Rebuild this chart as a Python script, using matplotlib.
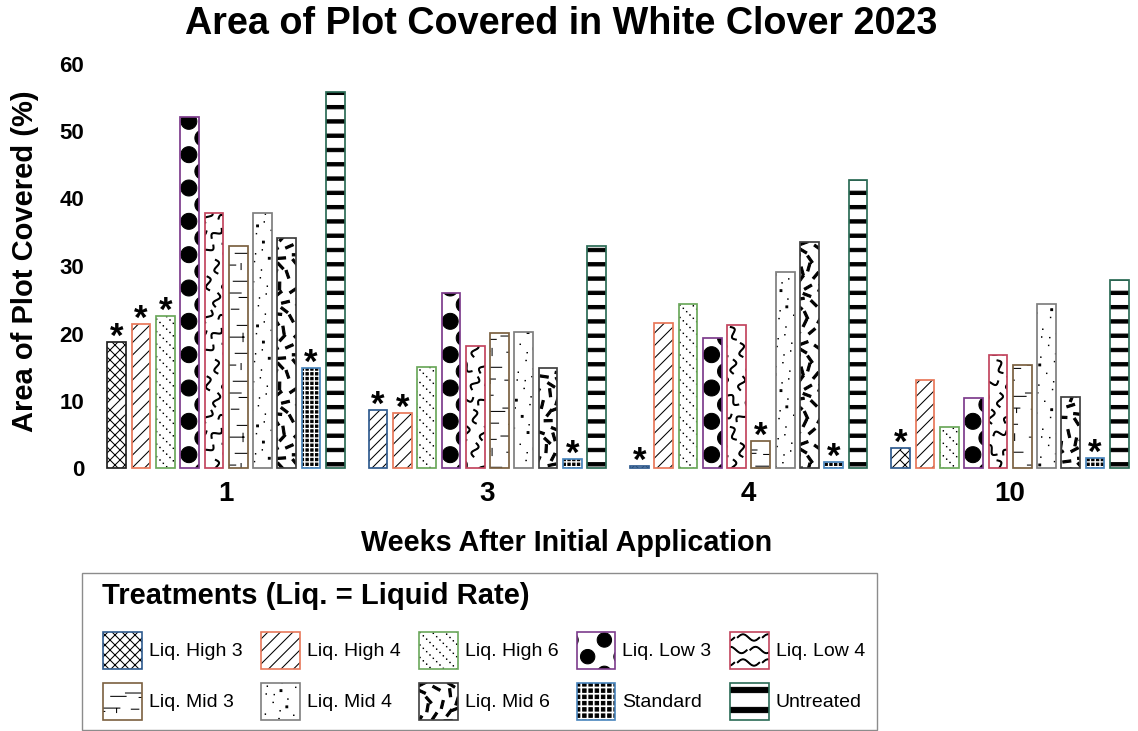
import warnings
warnings.filterwarnings('ignore')
import numpy as np
import matplotlib
matplotlib.use('Agg')
import matplotlib.pyplot as plt
import matplotlib.hatch as mhatch
from matplotlib.path import Path
from matplotlib.patches import Patch, Rectangle

# ---------------- data ----------------
weeks = ['1', '3', '4', '10']
treatments = ['Liq. High 3', 'Liq. High 4', 'Liq. High 6', 'Liq. Low 3', 'Liq. Low 4',
              'Liq. Mid 3', 'Liq. Mid 4', 'Liq. Mid 6', 'Standard', 'Untreated']
liq_high_3 = [18.7, 8.7, 0.4, 3.0]
liq_high_4 = [21.4, 8.2, 21.5, 13.1]
liq_high_6 = [22.6, 15.0, 24.3, 6.2]
liq_low_3 = [52.1, 26.0, 19.4, 10.4]
liq_low_4 = [37.8, 18.1, 21.3, 16.8]
liq_mid_3 = [32.9, 20.1, 4.1, 15.4]
liq_mid_4 = [37.8, 20.2, 29.1, 24.4]
liq_mid_6 = [34.2, 14.9, 33.6, 10.6]
standard = [14.9, 1.4, 1.0, 1.6]
untreated = [55.8, 32.9, 42.8, 28.0]

# asterisk marks above bars (1 = marked)
star_high_3 = [1, 1, 1, 1]
star_high_4 = [1, 1, 0, 0]
star_high_6 = [1, 0, 0, 0]
star_low_3 = [0, 0, 0, 0]
star_low_4 = [0, 0, 0, 0]
star_mid_3 = [0, 0, 1, 0]
star_mid_4 = [0, 0, 0, 0]
star_mid_6 = [0, 0, 0, 0]
star_standard = [1, 1, 1, 1]
star_untreated = [0, 0, 0, 0]

series = [liq_high_3, liq_high_4, liq_high_6, liq_low_3, liq_low_4,
          liq_mid_3, liq_mid_4, liq_mid_6, standard, untreated]
stars = [star_high_3, star_high_4, star_high_6, star_low_3, star_low_4,
         star_mid_3, star_mid_4, star_mid_6, star_standard, star_untreated]

title = 'Area of Plot Covered in White Clover 2023'
xlabel = 'Weeks After Initial Application'
ylabel = 'Area of Plot Covered (%)'
legend_title = 'Treatments (Liq. = Liquid Rate)'

# ---------------- styles ----------------
edge_colors = ['#2F5B8F', '#E8785A', '#6BA85B', '#7D3C8C', '#C2455E',
               '#7B6040', '#7F7F7F', '#404040', '#4A86BE', '#2A6B55']
first_group_edge_high3 = '#222222'

# ---------------- custom hatch tiles (100 px tile at dpi 100) ----------------
T = 100.0
_G = 1.32471795724474602596
_A1, _A2 = 1.0 / _G, 1.0 / _G ** 2


def _r2(k):
    return ((0.5 + k * _A1) % 1.0) * T, ((0.5 + k * _A2) % 1.0) * T


def _lines(segs):
    v, c = [], []
    for x0, y0, x1, y1 in segs:
        v += [(x0, y0), (x1, y1)]
        c += [Path.MOVETO, Path.LINETO]
    return v, c


def _wrap(polys):
    out = []
    for p in polys:
        p = np.asarray(p, float)
        for dx in (-T, 0.0, T):
            for dy in (-T, 0.0, T):
                q = p + (dx, dy)
                if (q[:, 0].max() < -2 or q[:, 0].min() > T + 2 or
                        q[:, 1].max() < -2 or q[:, 1].min() > T + 2):
                    continue
                out.append(q)
    return out


def _shapes(polys, wrap=True):
    v, c = [], []
    for p in (_wrap(polys) if wrap else polys):
        pts = [tuple(a) for a in np.asarray(p, float)]
        v += pts + [pts[0]]
        c += [Path.MOVETO] + [Path.LINETO] * (len(pts) - 1) + [Path.CLOSEPOLY]
    return v, c


def _rect(cx, cy, hw, hh, ang=0.0):
    ca, sa = np.cos(ang), np.sin(ang)
    loc = np.array([(-hw, -hh), (hw, -hh), (hw, hh), (-hw, hh)])
    return np.column_stack([cx + loc[:, 0] * ca - loc[:, 1] * sa,
                            cy + loc[:, 0] * sa + loc[:, 1] * ca])


def _ribbon(L, A, w):
    t = np.linspace(0, 1, 26)
    xs = (t - 0.5) * L
    ys = A * np.sin(2 * np.pi * t)
    dx = np.gradient(xs)
    dy = np.gradient(ys)
    nrm = np.hypot(dx, dy)
    nx, ny = -dy / nrm, dx / nrm
    left = np.column_stack([xs + w * nx, ys + w * ny])
    right = np.column_stack([xs - w * nx, ys - w * ny])
    return np.vstack([left, right[::-1]])


def pat_cross():
    n = 10
    s = T / n
    segs = []
    for k in range(-n, n + 1):
        segs.append((0, k * s, T, T + k * s))
        segs.append((0, k * s, T, k * s - T))
    return _lines(segs)


def pat_diag():
    n = 8
    s = T / n
    return _lines([(0, k * s, T, T + k * s) for k in range(-n, n + 1)])


def pat_dotdiag():
    n, m = 8, 30
    polys = []
    for j in range(n):
        for k in range(m):
            x = k * T / m
            y = (j * T / n - x) % T
            polys.append(_rect(x, y, 0.2, 0.2))
    return _shapes(polys)


def make_circles(cx0=8.0, cy0=10.0, r=8.0, off=14.0):
    def builder():
        P = T / 3
        th = np.linspace(0, 2 * np.pi, 30, endpoint=False)
        polys = []
        for i in range(3):
            for j in range(3):
                for ox, oy in ((0.0, 0.0), (off, P / 2)):
                    cx = (cx0 + i * P + ox) % T
                    cy = (cy0 + j * P + oy) % T
                    polys.append(np.column_stack([cx + r * np.cos(th), cy + r * np.sin(th)]))
        return _shapes(polys)
    return builder


def pat_squiggle():
    polys = []
    angles = np.deg2rad([90, 65, 115, 80, 20, 100, 140, 45])
    base = _ribbon(14.0, 3.0, 0.5)
    n = 6
    step = T / n
    for j in range(n):
        for i in range(n):
            a = angles[(i * 3 + j * 5) % 8]
            ca, sa = np.cos(a), np.sin(a)
            cx = i * step + (j % 2) * step / 2
            cy = j * step
            polys.append(np.column_stack([cx + base[:, 0] * ca - base[:, 1] * sa,
                                          cy + base[:, 0] * sa + base[:, 1] * ca]))
    return _shapes(polys)


def pat_squiggle_legend():
    polys = []
    base = _ribbon(22.0, 3.2, 0.45)
    n = 8
    step = T / n
    for j in range(n):
        for i in range(4):
            cx = i * 25.0 + (j % 2) * 12.5 + 11
            cy = j * step
            polys.append(base + (cx, cy))
    return _shapes(polys)


def pat_mid3():
    segs = []
    for k in range(30):
        x0, y = _r2(k)
        ln = 7 + 14 * ((k * 0.618034) % 1)
        for d in (-T, 0):
            segs.append((x0 + d, y, x0 + d + ln, y))
    for k in range(30, 38):
        x, y0 = _r2(k)
        ln = 4 + 5 * ((k * 0.618034) % 1)
        for d in (-T, 0):
            segs.append((x, y0 + d, x, y0 + d + ln))
    return _lines(segs)


def pat_dots():
    polys = []
    for k in range(90):
        x, y = _r2(k + 100)
        h = 0.9 if k % 6 == 0 else 0.2
        polys.append(_rect(x, y, h, h))
    return _shapes(polys)


def pat_dashes():
    polys = []
    for k in range(80):
        x, y = _r2(k + 300)
        a = ((k * 0.381966) % 1) * np.pi
        polys.append(_rect(x, y, 4.0, 1.1, a))
    return _shapes(polys)


def make_grid(n, h):
    def builder():
        p = T / n
        polys = [_rect((i + 0.5) * p, (j + 0.5) * p, h, h) for i in range(n) for j in range(n)]
        return _shapes(polys, wrap=False)
    return builder


def make_stripes(n, h):
    def builder():
        p = T / n
        polys = [np.array([(-3, j * p + p / 2 - h), (T + 3, j * p + p / 2 - h),
                           (T + 3, j * p + p / 2 + h), (-3, j * p + p / 2 + h)])
                 for j in range(n)]
        return _shapes(polys, wrap=False)
    return builder


class _TileHatch:
    key = None
    verts_ = None
    codes_ = None

    def __init__(self, hatch, density):
        self.num_vertices = len(self.codes_) if (hatch and self.key in hatch) else 0

    def set_vertices_and_codes(self, vertices, codes):
        vertices[:] = self.verts_
        codes[:] = self.codes_


def register(key, builder):
    v, c = builder()
    v = np.asarray(v, float) / T
    c = np.asarray(c, dtype=Path.code_type)
    cls = type('Hatch_' + key, (_TileHatch,), {'key': key, 'verts_': v, 'codes_': c})
    mhatch._hatch_types.append(cls)


hatch_keys = ['a', 'b', 'c', 'd', 'e', 'f', 'g', 'h', 'i', 'j']
legend_keys = ['a', 'b', 'c', 'd', 'r', 'f', 'g', 'h', 'p', 'q']
builders = [pat_cross, pat_diag, pat_dotdiag, make_circles(21.0, 10.0, 7.2, 16.7), pat_squiggle,
            pat_mid3, pat_dots, pat_dashes, make_grid(21, 1.15), make_stripes(7, 1.65)]
for key, b in zip(hatch_keys, builders):
    register(key, b)
register('p', make_grid(16, 1.7))
register('q', make_stripes(5, 2.6))
register('r', pat_squiggle_legend)

# ---------------- figure ----------------
plt.rcParams['font.family'] = ['Liberation Sans', 'DejaVu Sans']
plt.rcParams['hatch.linewidth'] = 0.75

W, H = 1138.0, 731.0
fig = plt.figure(figsize=(W / 100, H / 100), dpi=100)
X0, X1 = 95.0, 1130.0
Y0, Y1 = 468.5, 63.5
ax = fig.add_axes([X0 / W, 1 - Y0 / H, (X1 - X0) / W, (Y0 - Y1) / H])
ax.set_xlim(-0.5013, 3.459)
ax.set_ylim(0, 60)
for s in ax.spines.values():
    s.set_visible(False)

idx = np.arange(len(weeks))
pitch = 0.093
width = 0.0716

# circle pattern phased so a full column of dots sits in each "Liq. Low 3" bar
low3_x = idx + (3 - 4.5) * pitch
low3_px = ax.transData.transform(np.column_stack([low3_x, np.zeros(len(weeks))]))[:, 0]
circle_keys = ['k', 'l', 'm', 'n']
for key, cpx in zip(circle_keys, low3_px):
    register(key, make_circles((cpx - 0.7) % T, 12.0))

for i, vals in enumerate(series):
    xs = idx + (i - 4.5) * pitch
    ecs = [edge_colors[i]] * len(weeks)
    if i == 0:
        ecs[0] = first_group_edge_high3
    for g, (x, v) in enumerate(zip(xs, vals)):
        hk = circle_keys[g] if i == 3 else hatch_keys[i]
        ax.bar(x, v, width, color='white', edgecolor='black', hatch=hk,
               linewidth=0, zorder=2)
    ax.bar(xs, vals, width, fill=False, edgecolor=ecs, linewidth=1.25, zorder=3,
           clip_on=False)
    for x, v, st in zip(xs, vals, stars[i]):
        if st:
            ax.annotate('*', (x, v), xytext=(0, -3.5), textcoords='offset points',
                        ha='center', va='baseline', fontsize=25, fontweight='bold',
                        annotation_clip=False)

ax.set_yticks(range(0, 61, 10))
ax.tick_params(axis='y', length=0, pad=7.9, labelsize=16)
ax.set_xticks(idx, weeks)
ax.tick_params(axis='x', length=0, pad=9, labelsize=20)
for lab in ax.get_xticklabels() + ax.get_yticklabels():
    lab.set_fontweight('bold')

fig.text(561 / W, 1 - 34 / H, title, ha='center', va='baseline', fontsize=27.2,
         fontweight='bold')
fig.text(567 / W, 1 - 551 / H, xlabel, ha='center', va='baseline', fontsize=20.7,
         fontweight='bold')
fig.text(25 / W, 1 - 261 / H, ylabel, ha='center', va='center', rotation=90,
         fontsize=21, fontweight='bold')

# ---------------- legend ----------------
handles = []
for i in range(len(treatments)):
    handles.append((Patch(facecolor='white', edgecolor='black', hatch=legend_keys[i], linewidth=0),
                    Patch(facecolor='none', edgecolor=edge_colors[i], linewidth=1.2)))
order = [0, 5, 1, 6, 2, 7, 3, 8, 4, 9]
leg = fig.legend([handles[i] for i in order], [treatments[i] for i in order], ncol=5,
                 loc='upper left', bbox_to_anchor=(103 / W, 1 - 632 / H),
                 bbox_transform=fig.transFigure, frameon=False, borderpad=0,
                 borderaxespad=0, fontsize=14, handlelength=2.0, handleheight=2.55,
                 handletextpad=0.36, columnspacing=0.94, labelspacing=0.72)
fig.text(102 / W, 1 - 604 / H, legend_title, ha='left', va='baseline', fontsize=21,
         fontweight='bold')
fig.add_artist(Rectangle((82 / W, 1 - 730 / H), (877 - 82) / W, (730 - 573) / H,
                         transform=fig.transFigure, fill=False, edgecolor='#8c8c8c',
                         linewidth=1.0))

fig.savefig('out.png', dpi=100, facecolor='white')
